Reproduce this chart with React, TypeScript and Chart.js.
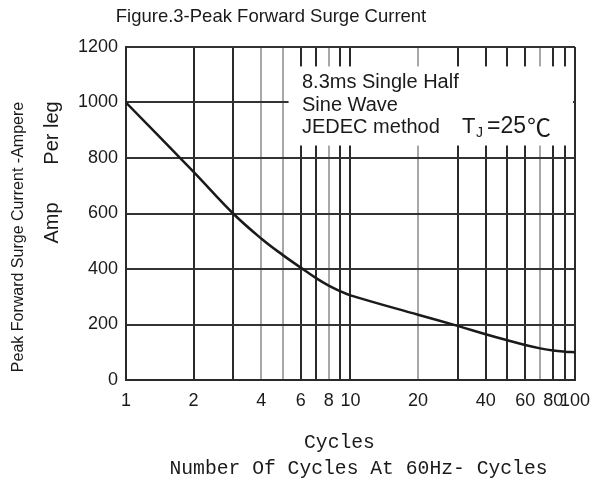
import React, { useEffect, useRef } from "react";
import { Chart, registerables } from "chart.js";

Chart.register(...registerables);

// ---- data ----
const cycles = [1, 2, 3, 4, 5, 6, 7, 8, 9, 10, 20, 30, 40, 50, 60, 70, 80, 90, 100];
const surgeCurrent = [1000, 750, 600, 510, 450, 405, 368, 340, 320, 305, 235, 195, 165, 143, 126, 114, 106, 102, 100];
const xGridValues = [1, 2, 3, 4, 5, 6, 7, 8, 9, 10, 20, 30, 40, 50, 60, 70, 80, 90, 100];
const xTickLabels = [1, 2, 4, 6, 8, 10, 20, 40, 60, 80, 100];
const lightGridValues = [4, 5, 8, 20, 70];
const yMin = 0;
const yMax = 1200;
const yStep = 200;

const chartTitle = "Figure.3-Peak Forward Surge Current";
const yTitleOuter = "Peak Forward Surge Current -Ampere";
const yTitleInnerA = "Per leg";
const yTitleInnerB = "Amp";
const xTitle1 = "Cycles";
const xTitle2 = "Number Of Cycles At 60Hz- Cycles";
const noteLines = ["8.3ms Single Half", "Sine Wave", "JEDEC method"];

const SANS = '"Liberation Sans", Arial, sans-serif';
const MONO = '"Liberation Mono", "Courier New", monospace';
const INK = "#1a1a1a";

const decorPlugin = {
  id: "decor",
  beforeDatasetsDraw(chart: any) {
    const { ctx, chartArea, scales } = chart;
    const x = scales.x;
    const y = scales.y;
    const left = x.getPixelForValue(5.3);
    const right = chartArea.right - 2;
    const top = y.getPixelForValue(1130);
    const bottom = y.getPixelForValue(845);
    ctx.save();
    ctx.fillStyle = "#ffffff";
    ctx.fillRect(left, top, right - left, bottom - top);
    ctx.restore();
  },
  afterDraw(chart: any) {
    const { ctx, chartArea } = chart;
    ctx.save();
    ctx.fillStyle = INK;
    // title
    ctx.font = `18.5px ${SANS}`;
    ctx.textAlign = "center";
    ctx.textBaseline = "middle";
    ctx.fillText(chartTitle, chartArea.left + 145, chartArea.top - 30);

    // annotation text
    const tx = chartArea.left + 176;
    const ys = [chartArea.top + 35, chartArea.top + 58, chartArea.top + 80];
    ctx.textAlign = "left";
    ctx.font = `20px ${SANS}`;
    noteLines.forEach((t, i) => ctx.fillText(t, tx, ys[i]));
    ctx.font = `22px ${SANS}`;
    ctx.fillText("T", tx + 160, ys[2]);
    ctx.font = `14px ${SANS}`;
    ctx.fillText("J", tx + 174, ys[2] + 6);
    ctx.font = `23px ${SANS}`;
    ctx.fillText("=25", tx + 185, ys[2]);
    ctx.font = `24px "Noto Sans CJK SC", ${SANS}`;
    ctx.fillText("℃", tx + 225, ys[2]);

    // y titles (rotated)
    ctx.textAlign = "center";
    const drawRot = (text: string, cx: number, cy: number, font: string) => {
      ctx.save();
      ctx.translate(cx, cy);
      ctx.rotate(-Math.PI / 2);
      ctx.font = font;
      ctx.fillText(text, 0, 0);
      ctx.restore();
    };
    drawRot(yTitleOuter, 19, chartArea.top + 190, `16px ${SANS}`);
    drawRot(yTitleInnerA, 52, chartArea.top + 86, `20px ${SANS}`);
    drawRot(yTitleInnerB, 52, chartArea.top + 176, `20px ${SANS}`);

    // x titles
    const cx = (chartArea.left + chartArea.right) / 2;
    ctx.font = `19.7px ${MONO}`;
    ctx.fillText(xTitle1, cx - 11, chartArea.bottom + 63);
    ctx.fillText(xTitle2, cx + 8, chartArea.bottom + 89);
    ctx.restore();
  },
};

export default function App() {
  const canvasRef = useRef<HTMLCanvasElement | null>(null);

  useEffect(() => {
    if (!canvasRef.current) return;
    const points = cycles.map((c, i) => ({ x: c, y: surgeCurrent[i] }));
    const chart = new Chart(canvasRef.current, {
      type: "line",
      data: {
        datasets: [
          {
            data: points,
            borderColor: "#1a1a1a",
            borderWidth: 2.5,
            pointRadius: 0,
            tension: 0.4,
            fill: false,
          },
        ],
      },
      options: {
        animation: false,
        responsive: false,
        layout: { padding: { top: 47, right: 23, left: 0, bottom: 0 } },
        plugins: {
          legend: { display: false },
          tooltip: { enabled: false },
          title: { display: false },
        },
        scales: {
          x: {
            type: "logarithmic",
            min: 1,
            max: 100,
            afterBuildTicks: (s: any) => {
              s.ticks = xGridValues.map((v) => ({ value: v }));
            },
            afterFit: (s: any) => {
              s.height = 117;
            },
            ticks: {
              autoSkip: false,
              maxRotation: 0,
              padding: 10,
              color: INK,
              font: { family: SANS, size: 18 },
              callback: (v: any) => (xTickLabels.includes(Number(v)) ? String(v) : ""),
            },
            grid: {
              drawTicks: false,
              lineWidth: 2,
              color: (c: any) =>
                c.tick && lightGridValues.includes(c.tick.value) ? "#a8a8a8" : "#2a2a2a",
            },
            border: { color: "#2a2a2a", width: 2 },
          },
          y: {
            min: yMin,
            max: yMax,
            afterFit: (s: any) => {
              s.width = 126;
            },
            ticks: {
              stepSize: yStep,
              padding: 8,
              color: INK,
              font: { family: SANS, size: 18 },
              callback: (v: any) => String(v),
            },
            grid: { drawTicks: false, lineWidth: 2, color: "#333333" },
            border: { color: "#2a2a2a", width: 2 },
          },
        },
      },
      plugins: [decorPlugin],
    } as any);
    return () => chart.destroy();
  }, []);

  return (
    <div style={{ position: "absolute", left: 0, top: 0, width: 600, height: 497, background: "#fff" }}>
      <canvas ref={canvasRef} width={600} height={497} style={{ display: "block" }} />
    </div>
  );
}
